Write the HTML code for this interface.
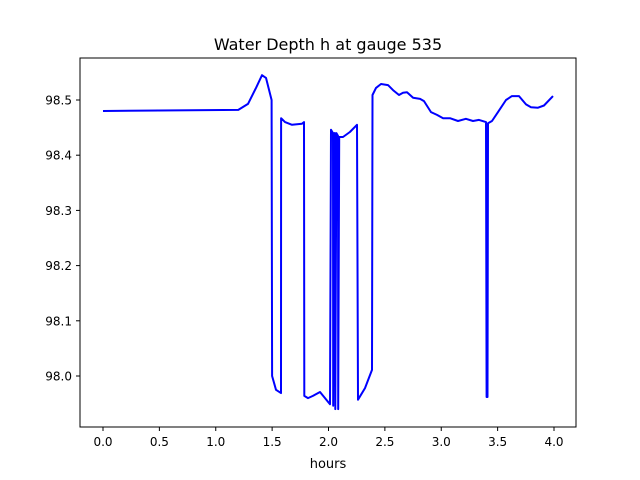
<!DOCTYPE html>
<html><head><meta charset="utf-8"><style>
body{margin:0;background:#fff;}
svg{display:block;font-family:"DejaVu Sans","Liberation Sans",sans-serif;}
</style></head><body>
<svg id="chart" width="640" height="480">
<rect width="640" height="480" fill="#fff"/>
<text x="328" y="50" text-anchor="middle" font-size="16">Water Depth h at gauge 535</text>
<text x="328" y="468" text-anchor="middle" font-size="13">hours</text>
<g id="ticks"></g>
<path id="line" fill="none" stroke="#0000ff" stroke-width="2" stroke-linejoin="round"/>
<rect x="80" y="58" width="496" height="369" fill="none" stroke="#000" stroke-width="1"/>
</svg>
<script>
const xTicks=[0,0.5,1,1.5,2,2.5,3,3.5,4];
const yTicks=[98.0,98.1,98.2,98.3,98.4,98.5];
const hours=[0,1.2,1.286,1.357,1.41,1.446,1.495,1.5,1.534,1.579,1.58,1.614,1.676,1.765,1.783,1.785,1.818,1.862,1.925,1.969,2.013,2.022,2.04,2.042,2.05,2.058,2.06,2.07,2.084,2.086,2.095,2.129,2.19,2.253,2.262,2.324,2.386,2.39,2.421,2.466,2.528,2.572,2.625,2.661,2.696,2.75,2.812,2.847,2.909,2.962,3.016,3.078,3.149,3.219,3.282,3.335,3.397,3.402,3.41,3.415,3.45,3.503,3.574,3.627,3.69,3.752,3.796,3.858,3.911,3.991];
const depth=[98.48,98.482,98.493,98.522,98.545,98.54,98.5,98.0,97.975,97.969,98.467,98.46,98.455,98.457,98.46,97.964,97.96,97.964,97.971,97.96,97.949,98.446,98.44,97.946,98.44,98.44,97.94,98.44,98.435,97.94,98.433,98.433,98.442,98.455,97.957,97.978,98.011,98.509,98.522,98.529,98.527,98.518,98.509,98.513,98.514,98.504,98.502,98.498,98.478,98.473,98.467,98.467,98.462,98.466,98.462,98.464,98.46,97.962,97.962,98.458,98.462,98.478,98.5,98.507,98.507,98.492,98.487,98.486,98.49,98.507];
const xs=v=>103+v*112.75;
const ys=v=>376-(v-98)*552;
const NS='http://www.w3.org/2000/svg';
const g=document.getElementById('ticks');
function mk(t,a){const e=document.createElementNS(NS,t);for(const k in a)e.setAttribute(k,a[k]);g.appendChild(e);return e;}
xTicks.forEach(v=>{
 const l=mk('line',{x1:xs(v),x2:xs(v),y1:427,y2:431,stroke:'#000'});
 
 
 const t=mk('text',{x:xs(v),y:446,'text-anchor':'middle','font-size':'12'});
 t.textContent=v.toFixed(1);
 
 
});
yTicks.forEach(v=>{
 const l=mk('line',{x1:76,x2:80,y1:ys(v),y2:ys(v),stroke:'#000'});
 
 
 const t=mk('text',{x:72,y:ys(v)+4.5,'text-anchor':'end','font-size':'12'});
 t.textContent=v.toFixed(1);
 
 
});
document.getElementById('line').setAttribute('d',hours.map((h,i)=>(i?'L':'M')+xs(h).toFixed(1)+','+ys(depth[i]).toFixed(1)).join(''));
</script>
</body></html>
